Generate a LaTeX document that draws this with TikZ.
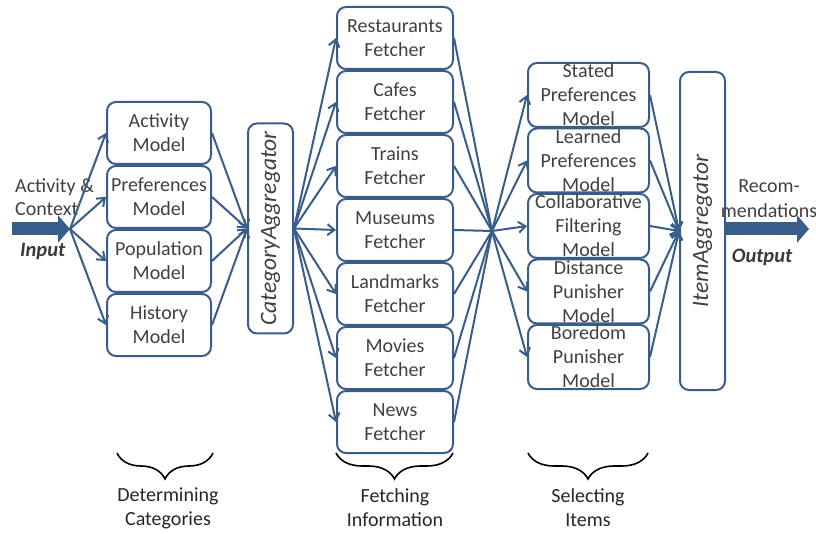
\documentclass[tikz,border=0pt]{standalone}
\usepackage{fontspec}
\setmainfont{Carlito}
\usetikzlibrary{arrows.meta,decorations.pathreplacing}
\definecolor{bl}{RGB}{56,93,138}
\definecolor{tx}{RGB}{64,64,64}
\begin{document}
\begin{tikzpicture}[x=1pt,y=-1pt,
 box/.style={draw=bl, line width=2pt, rounded corners=9pt, inner sep=0pt},
 mdl/.style={box, minimum width=104pt, minimum height=62pt},
 ftc/.style={box, minimum width=116pt, minimum height=62pt},
 sel/.style={box, minimum width=121pt, minimum height=64pt},
 agg/.style={box, minimum width=45pt},
 lbl/.style={text=tx, font=\fontsize{20}{24}\selectfont, align=center, inner sep=0pt},
 rlbl/.style={lbl, font=\fontsize{23.5}{28}\selectfont\itshape, rotate=90},
 bio/.style={text=tx!90!black, font=\fontsize{20.5}{24}\selectfont\bfseries\itshape, inner sep=0pt},
 conn/.style={draw=bl, line width=2pt},
 arr/.style={conn, -{Straight Barb[length=7pt,width=11pt]}},
 bigarr/.style={draw=bl, line width=13pt, -{Triangle[length=12pt,width=27pt]}},
 brc/.style={draw=black, line width=1.6pt, decorate, decoration={brace, amplitude=26pt}},
]
\useasboundingbox (0,0) rectangle (816,534);

% input
\coordinate (instart) at (12,229);
\coordinate (inhub) at (70,229);
\draw[bigarr] (instart) -- (inhub);
\node[lbl, anchor=base west] (act) at (15,193) {Activity \&};
\node[lbl, anchor=base west] (ctx) at (15,216) {Context};
\node[bio, anchor=base west] (inp) at (20,257) {Input};

% models
\node[mdl, label={[lbl]center:{Activity\\Model}}] (m1) at (159,133) {};
\node[mdl, label={[lbl]center:{Preferences\\Model}}] (m2) at (159,197) {};
\node[mdl, label={[lbl]center:{Population\\Model}}] (m3) at (159,261) {};
\node[mdl, label={[lbl]center:{History\\Model}}] (m4) at (159,325) {};

% category aggregator
\node[agg, minimum height=210pt, label={[rlbl]center:CategoryAggregator}] (ca) at (270.5,228.5) {};

% fetchers
\node[ftc, label={[lbl]center:{Restaurants\\Fetcher}}] (f1) at (395,38) {};
\node[ftc, label={[lbl]center:{Cafes\\Fetcher}}] (f2) at (395,102) {};
\node[ftc, label={[lbl]center:{Trains\\Fetcher}}] (f3) at (395,166) {};
\node[ftc, label={[lbl]center:{Museums\\Fetcher}}] (f4) at (395,230) {};
\node[ftc, label={[lbl]center:{Landmarks\\Fetcher}}] (f5) at (395,294) {};
\node[ftc, label={[lbl]center:{Movies\\Fetcher}}] (f6) at (395,358) {};
\node[ftc, label={[lbl]center:{News\\Fetcher}}] (f7) at (395,422) {};

\coordinate (hub) at (492,231);

% selectors
\node[sel, label={[lbl]center:{Stated\\Preferences\\Model}}] (s1) at (588.5,95) {};
\node[sel, label={[lbl]center:{Learned\\Preferences\\Model}}] (s2) at (588.5,160.5) {};
\node[sel, label={[lbl]center:{Collaborative\\Filtering\\Model}}] (s3) at (588.5,226) {};
\node[sel, label={[lbl]center:{Distance\\Punisher\\Model}}] (s4) at (588.5,291.5) {};
\node[sel, label={[lbl]center:{Boredom\\Punisher\\Model}}] (s5) at (588.5,357) {};

% item aggregator
\node[agg, minimum height=318pt, label={[rlbl]center:ItemAggregator}] (ia) at (702.5,231) {};

% output
\coordinate (outend) at (809,229);
\draw[bigarr] (ia.east |- outend) -- (outend);
\node[lbl, anchor=base] (rec1) at (769,193) {Recom-};
\node[lbl, anchor=base] (rec2) at (769,218) {mendations};
\node[bio, anchor=base] (outp) at (762,263) {Output};

% connectors
\foreach \m in {m1,m2,m3,m4} {
  \draw[arr] (inhub) -- (\m.west);
  \draw[arr] (\m.east) -- (ca.west);
}
\foreach \f in {f1,f2,f3,f4,f5,f6,f7} {
  \draw[arr] (ca.east) -- (\f.west);
  \draw[conn] (\f.east) -- (hub);
}
\foreach \s in {s1,s2,s3,s4,s5} {
  \draw[arr] (hub) -- (\s.west);
  \draw[arr] (\s.east) -- (ia.west);
}

% braces
\coordinate (b1r) at (213,453); \coordinate (b1l) at (117,453);
\coordinate (b2r) at (453,453); \coordinate (b2l) at (336,453);
\coordinate (b3r) at (648,453); \coordinate (b3l) at (528,453);
\draw[brc] (b1r) -- (b1l);
\draw[brc] (b2r) -- (b2l);
\draw[brc] (b3r) -- (b3l);
\node[lbl, text=black!85] (t1) at (168,508) {Determining\\Categories};
\node[lbl, text=black!85] (t2) at (395,508) {Fetching\\Information};
\node[lbl, text=black!85] (t3) at (588,508) {Selecting\\Items};
\end{tikzpicture}
\end{document}
